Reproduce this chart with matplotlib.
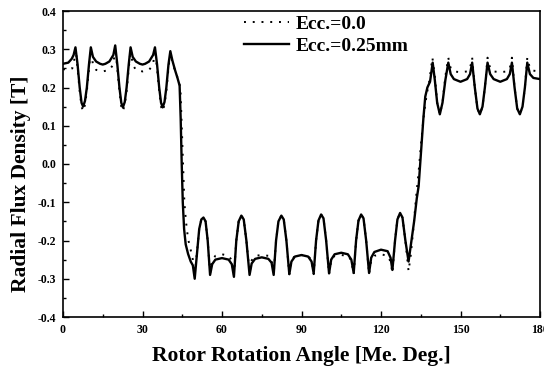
import matplotlib
matplotlib.use("Agg")
import matplotlib.pyplot as plt
from matplotlib.ticker import MultipleLocator

plt.rcParams["font.family"] = ["Liberation Serif", "DejaVu Serif"]
plt.rcParams["font.weight"] = "bold"
plt.rcParams["axes.unicode_minus"] = False

# Ecc.=0.25mm (solid)
ecc25_deg = [0, 2, 3.3, 4.0, 4.7, 5.5, 6.3, 7.0, 7.6, 8.3, 9.0, 9.8, 10.5, 11.3, 12.5, 14, 15, 16, 17.5,
             19.0, 19.7, 20.5, 21.3, 22.0, 22.6, 23.3, 24.0, 24.8, 25.5, 26.3, 27.5, 29, 30, 31, 32.5,
             34.0, 34.7, 35.5, 36.3, 37.0, 37.6, 38.3, 39.0, 39.8, 40.5, 41.3, 42.3, 43.2, 44.0, 44.4,
             44.8, 45.2, 45.7, 46.3, 47.2, 48.2, 49.0, 49.7,
             50.5, 51.4, 52.2, 53.0, 53.8, 54.6, 55.5, 56.3, 57.5, 60, 62.5, 63.7, 64.5, 65.4, 66.3,
             67.3, 68.2, 69.2, 70.4, 71.2, 72.5, 75, 77.5, 78.7, 79.5, 80.4, 81.3, 82.4, 83.3, 84.3,
             85.4, 86.2, 87.5, 90, 92.5, 93.8, 94.6, 95.5, 96.4, 97.4, 98.3, 99.3, 100.4, 101.2, 102.5,
             105, 107.5, 108.8, 109.7, 110.6, 111.5, 112.5, 113.4, 114.4, 115.5, 116.3, 117.5, 120,
             122.5, 123.6, 124.3, 125.3, 126.2, 127.2, 128.1, 129.2, 130.4,
             131.5, 132.5, 133.5, 134.2, 135.0, 136.0, 136.7, 137.5, 138.5, 139.5, 140.3, 141.2, 142.2,
             143.2, 144.3, 145.4, 146.3, 147.5, 150, 152.5, 153.6, 154.4, 155.4, 156.4, 157.3, 158.3,
             159.2, 160.2, 161.2, 162.5, 165, 167.5, 168.6, 169.4, 170.4, 171.4, 172.4, 173.4, 174.3,
             175.2, 176.2, 177.5, 180]
ecc25_b = [0.262, 0.265, 0.275, 0.285, 0.305, 0.26, 0.2, 0.16, 0.15, 0.165, 0.2, 0.26, 0.305, 0.28, 0.268,
           0.262, 0.26, 0.262, 0.268,
           0.285, 0.31, 0.26, 0.2, 0.16, 0.148, 0.162, 0.2, 0.26, 0.305, 0.28, 0.268, 0.262, 0.26, 0.262,
           0.268,
           0.285, 0.305, 0.26, 0.2, 0.16, 0.148, 0.162, 0.2, 0.26, 0.295, 0.27, 0.245, 0.225, 0.205, 0.12,
           0.0, -0.1, -0.17, -0.21, -0.235, -0.255, -0.265, -0.3,
           -0.24, -0.17, -0.145, -0.14, -0.15, -0.2, -0.29, -0.262, -0.25, -0.246, -0.25, -0.262, -0.295,
           -0.2, -0.15, -0.135, -0.145, -0.2, -0.29, -0.26, -0.248, -0.244, -0.248, -0.258, -0.29, -0.2,
           -0.15, -0.135, -0.145, -0.2, -0.288, -0.255, -0.242, -0.238, -0.242, -0.255, -0.286, -0.2,
           -0.148, -0.132, -0.142, -0.2, -0.286, -0.25, -0.236, -0.232, -0.236, -0.25, -0.285, -0.2,
           -0.148, -0.132, -0.142, -0.2, -0.285, -0.245, -0.23, -0.224, -0.228, -0.245, -0.277, -0.2,
           -0.145, -0.128, -0.14, -0.2, -0.255,
           -0.2, -0.15, -0.09, -0.058, 0.02, 0.12, 0.176, 0.2, 0.215, 0.265, 0.22, 0.16, 0.13,
           0.16, 0.22, 0.265, 0.235, 0.222, 0.215, 0.222, 0.235, 0.265, 0.2, 0.145, 0.13, 0.15,
           0.2, 0.265, 0.235, 0.222, 0.215, 0.222, 0.235, 0.265, 0.2, 0.145, 0.13, 0.15, 0.2,
           0.265, 0.235, 0.225, 0.222]

# Ecc.=0.0 (dotted)
ecc0_deg = [0, 2, 3.5, 4.2, 4.8, 5.5, 6.3, 7.0, 7.6, 8.3, 9.0, 9.8, 10.5, 11.3, 12.5, 15, 17.5,
            19.0, 19.7, 20.5, 21.3, 22.0, 22.6, 23.3, 24.0, 24.8, 25.5, 26.3, 27.5, 30, 32.5,
            34.0, 34.7, 35.5, 36.3, 37.0, 37.6, 38.3, 39.0, 39.8, 40.5, 41.5, 42.5, 43.5, 44.3,
            44.8, 45.3, 45.8, 46.4, 47.2, 48.2, 49.0, 49.7,
            50.5, 51.4, 52.2, 53.0, 53.8, 54.6, 55.5, 56.3, 57.5, 60, 62.5, 63.7, 64.5, 65.4, 66.3,
            67.3, 68.2, 69.2, 70.4, 71.2, 72.5, 75, 77.5, 78.7, 79.5, 80.4, 81.3, 82.4, 83.3, 84.3,
            85.4, 86.2, 87.5, 90, 92.5, 93.8, 94.6, 95.5, 96.4, 97.4, 98.3, 99.3, 100.4, 101.2, 102.5,
            105, 107.5, 108.8, 109.7, 110.6, 111.5, 112.5, 113.4, 114.4, 115.5, 116.3, 117.5, 120,
            122.5, 123.6, 124.3, 125.3, 126.2, 127.2, 128.1, 129.2, 130.4,
            131.2, 132.2, 133.2, 134.2, 135.2, 136.2, 137.2, 138.3, 139.4, 140.3, 141.2, 142.2,
            143.2, 144.3, 145.4, 146.3, 147.5, 150, 152.5, 153.6, 154.4, 155.4, 156.4, 157.3, 158.3,
            159.2, 160.2, 161.2, 162.5, 165, 167.5, 168.6, 169.4, 170.4, 171.4, 172.4, 173.4, 174.3,
            175.2, 176.2, 177.5, 180]
ecc0_b = [0.248, 0.246, 0.25, 0.27, 0.3, 0.25, 0.19, 0.15, 0.138, 0.155, 0.19, 0.25, 0.3, 0.26, 0.246,
          0.242, 0.246,
          0.26, 0.305, 0.25, 0.19, 0.15, 0.138, 0.155, 0.19, 0.25, 0.3, 0.26, 0.246, 0.242, 0.246,
          0.26, 0.3, 0.25, 0.19, 0.15, 0.138, 0.155, 0.19, 0.25, 0.29, 0.26, 0.24, 0.22, 0.2,
          0.1, 0.0, -0.1, -0.15, -0.196, -0.225, -0.25, -0.29,
          -0.235, -0.17, -0.145, -0.14, -0.15, -0.2, -0.285, -0.252, -0.24, -0.236, -0.24, -0.252,
          -0.29, -0.2, -0.15, -0.135, -0.145, -0.2, -0.285, -0.252, -0.24, -0.238, -0.24, -0.252,
          -0.288, -0.2, -0.15, -0.135, -0.145, -0.2, -0.288, -0.252, -0.24, -0.238, -0.24, -0.252,
          -0.288, -0.2, -0.148, -0.132, -0.142, -0.2, -0.288, -0.252, -0.24, -0.238, -0.24, -0.252,
          -0.288, -0.2, -0.148, -0.132, -0.142, -0.2, -0.288, -0.252, -0.24, -0.236, -0.24, -0.255,
          -0.285, -0.2, -0.145, -0.128, -0.14, -0.2, -0.28,
          -0.24, -0.17, -0.09, -0.02, 0.06, 0.13, 0.18, 0.22, 0.278, 0.23, 0.16, 0.13,
          0.16, 0.23, 0.278, 0.25, 0.242, 0.24, 0.242, 0.25, 0.278, 0.2, 0.145, 0.13, 0.15,
          0.2, 0.278, 0.25, 0.242, 0.24, 0.242, 0.25, 0.278, 0.2, 0.145, 0.13, 0.15, 0.2,
          0.278, 0.25, 0.244, 0.242]

x_ticks = [0, 30, 60, 90, 120, 150, 180]
y_ticks = [-0.4, -0.3, -0.2, -0.1, 0.0, 0.1, 0.2, 0.3, 0.4]

fig = plt.figure(figsize=(5.44, 3.72), dpi=100)
ax = fig.add_axes([63 / 544, 55 / 372, 477 / 544, 306 / 372])

ax.plot(ecc0_deg, ecc0_b, color="black", lw=1.4, linestyle=(0, (1, 3.5)), label="Ecc.=0.0")
ax.plot(ecc25_deg, ecc25_b, color="black", lw=1.7, label="Ecc.=0.25mm")

ax.set_xlim(0, 180)
ax.set_ylim(-0.4, 0.4)
ax.set_xticks(x_ticks)
ax.set_yticks(y_ticks)
ax.set_yticklabels([f"{v:.1f}" for v in y_ticks])
ax.xaxis.set_minor_locator(MultipleLocator(15))
ax.yaxis.set_minor_locator(MultipleLocator(0.05))
ax.tick_params(which="both", direction="in", top=False, right=False, labelsize=8.5, width=1)
ax.tick_params(which="major", length=4, pad=5)
ax.tick_params(which="minor", length=2.5)
for s in ax.spines.values():
    s.set_linewidth(1.2)

ax.set_xlabel("Rotor Rotation Angle [Me. Deg.]", fontsize=15.5, fontweight="bold", labelpad=7)
ax.set_ylabel("Radial Flux Density [T]", fontsize=15.5, fontweight="bold")
ax.yaxis.set_label_coords(-0.067, 0.435)

ax.legend(loc="upper left", bbox_to_anchor=(0.38, 0.985), frameon=False,
          handlelength=2.3, handletextpad=0.35, labelspacing=0.2, borderpad=0, borderaxespad=0,
          prop={"weight": "bold", "size": 14})

fig.savefig("out.png", dpi=100)
